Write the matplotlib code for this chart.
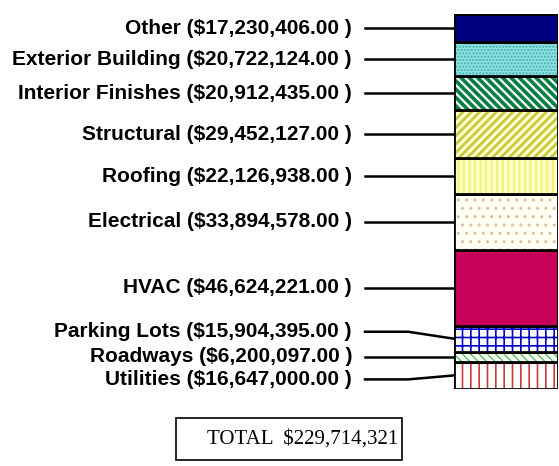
import numpy as np
import matplotlib
matplotlib.use("Agg")
import matplotlib.pyplot as plt
from matplotlib.patches import Rectangle

# cost categories, bottom of the stack first
categories = ["Utilities", "Roadways", "Parking Lots", "HVAC", "Electrical",
              "Roofing", "Structural", "Interior Finishes", "Exterior Building", "Other"]
amounts = [16647000.00, 6200097.00, 15904395.00, 46624221.00, 33894578.00,
           22126938.00, 29452127.00, 20912435.00, 20722124.00, 17230406.00]
total_label = "TOTAL  $229,714,321"

# look of each segment: face, hatch, hatch colour, hatch width
faces = ["white", "white", "white", "#c8005a", "#fffff4",
         "#ffffc8", "#ffffd0", "white", "#90e0e0", "#000080"]
hatches = ["||", "\\\\\\\\", "++", "", "..",
           "|||", "////", "\\\\\\\\", ".....", ""]
hatch_cols = ["#c83c3c", "#50c850", "#0000c8", "#c8005a", "#dcc0a0",
              "#f0f07a", "#c8c83c", "#008040", "#40b0b0", "#000080"]
hatch_lw = [1.2, 1.0, 1.2, 1.0, 1.0, 1.5, 2.0, 2.6, 1.0, 1.0]
label_dy = [4, 0, -7, 0, 0, 0, 0, 0, 0, 0]  # pixel nudges so labels don't collide

W, H = 559, 466
fig = plt.figure(figsize=(W / 100, H / 100), dpi=100)

# overlay in pixel coords for labels and leader lines
ov = fig.add_axes([0, 0, 1, 1], zorder=1)
ov.set_xlim(0, W)
ov.set_ylim(H, 0)
ov.axis("off")

ax = fig.add_axes([454 / W, (H - 389) / H, 104 / W, 375 / H], zorder=2)
ax.set_xlim(0, 1)
ax.set_ylim(0, sum(amounts))
ax.axis("off")

bottoms = np.concatenate([[0], np.cumsum(amounts)[:-1]])
for i, v in enumerate(amounts):
    with plt.rc_context({"hatch.linewidth": hatch_lw[i]}):
        ax.bar(0.5, v, width=1, bottom=bottoms[i], color=faces[i],
               hatch=hatches[i], edgecolor=hatch_cols[i], linewidth=0)
    ax.bar(0.5, v, width=1, bottom=bottoms[i], fill=False,
           edgecolor="black", linewidth=2)

# fit label font so the widest label spans the same room as in the original
fig.canvas.draw()
r = fig.canvas.get_renderer()
probe = ov.text(0, 0, "Exterior Building ($20,722,124.00 )", fontsize=10,
                fontweight="bold", family="Liberation Sans")
fs = 10 * 340 / probe.get_window_extent(r).width
probe.remove()

for i, (name, v) in enumerate(zip(categories, amounts)):
    mid = bottoms[i] + v / 2
    y_mid = H - ax.transData.transform((0, mid))[1]
    y_lab = y_mid + label_dy[i]
    ov.text(352, y_lab, f"{name} (${v:,.2f} )", ha="right", va="center",
            fontsize=fs, fontweight="bold", family="Liberation Sans")
    ov.plot([365, 408, 454], [y_lab, y_lab, y_mid], color="black", lw=1.8,
            solid_joinstyle="miter")

ov.add_patch(Rectangle((176, 418), 226, 42, fc="white", ec="black", lw=1.2))
ov.text(207, 439, total_label, ha="left", va="center", fontsize=15,
        family="Liberation Serif")

plt.savefig("out.png", dpi=100)
